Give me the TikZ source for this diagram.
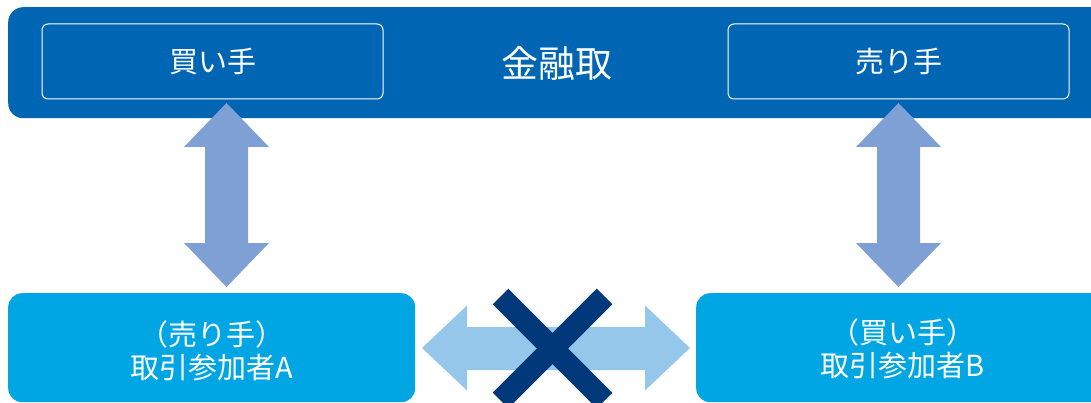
\documentclass[tikz,border=0pt]{standalone}
\usepackage{fontspec}
\newfontfamily\jp{Noto Sans CJK JP}
\definecolor{barblue}{RGB}{0,102,179}
\definecolor{boxblue}{RGB}{0,166,227}
\definecolor{varrow}{RGB}{127,160,212}
\definecolor{harrow}{RGB}{149,199,234}
\definecolor{crossblue}{RGB}{0,56,122}
\tikzset{
  bar/.style={fill=barblue, draw=none, rounded corners=15pt, inner sep=0pt},
  innerbox/.style={draw=white, line width=1pt, rounded corners=6pt, minimum width=341pt, minimum height=75pt, inner sep=0pt, text=white, font=\jp\fontsize{29}{33}\selectfont},
  party/.style={fill=boxblue, draw=none, rounded corners=14pt, inner sep=0pt, text=white, align=center, font=\jp\fontsize{29}{33}\selectfont},
  title/.style={text=white, inner sep=0pt, font=\jp\fontsize{37}{40}\selectfont},
  varr/.style={fill=varrow, draw=none},
  harr/.style={fill=harrow, draw=none},
  cross/.style={draw=crossblue, line width=22pt, line cap=butt}
}
\begin{document}
\begin{tikzpicture}[x=1pt,y=-1pt]
\useasboundingbox (0,0) rectangle (1091,403);
\begin{scope}
\clip (0,0) rectangle (1091,403);
% market bar
\node[bar, minimum width=1112pt, minimum height=111pt, anchor=north west] (market) at (8,7) {};
\node[title] (title) at (557,63) {金融取};
\node[innerbox] (buyer) at (212.5,61.5) {買い手};
\node[innerbox] (seller) at (898.5,61.5) {売り手};
% participants
\node[party, minimum width=407pt, minimum height=109pt, anchor=north west] (pa) at (8,293) {};
\node[party, minimum width=414pt, minimum height=109pt, anchor=north west] (pb) at (696,293) {};
\node[party, fill=none] (patext) at (211.5,351) {（売り手）\\取引参加者A};
\node[party, fill=none] (pbtext) at (903,349) {（買い手）\\取引参加者B};
% vertical arrows
\foreach \cx in {226.5,898.5}{
  \fill[varr] (\cx,103) -- (\cx+42.5,147) -- (\cx+21.5,147) -- (\cx+21.5,243) -- (\cx+42.5,243) -- (\cx,287)
    -- (\cx-42.5,243) -- (\cx-21.5,243) -- (\cx-21.5,147) -- (\cx-42.5,147) -- cycle;
}
% horizontal arrow
\fill[harr] (422,348) -- (467,305.5) -- (467,327) -- (645,327) -- (645,305.5) -- (690,348)
  -- (645,390.5) -- (645,370) -- (467,370) -- (467,390.5) -- cycle;
% cross
\coordinate (x1) at (500.5,296.5);
\coordinate (x2) at (604.5,400.5);
\coordinate (x3) at (604.5,296.5);
\coordinate (x4) at (500.5,400.5);
\draw[cross] (x1) -- (x2);
\draw[cross] (x3) -- (x4);
\end{scope}
\end{tikzpicture}
\end{document}
